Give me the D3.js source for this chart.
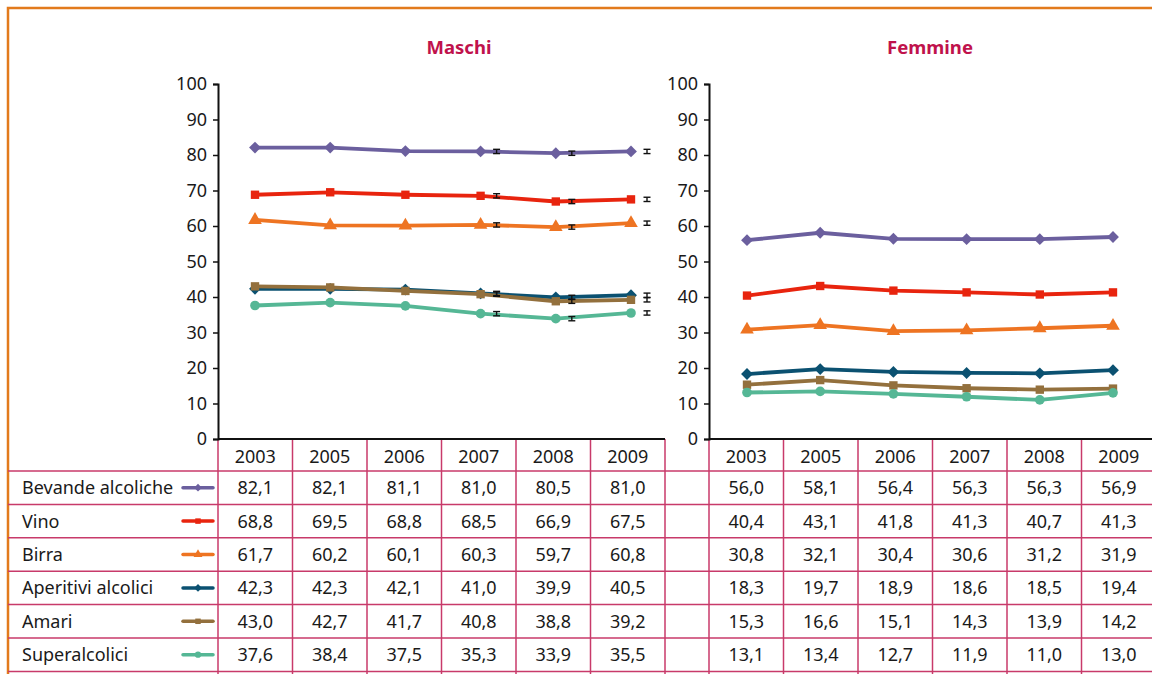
<!DOCTYPE html>
<html>
<head>
<meta charset="utf-8">
<script src="https://cdn.jsdelivr.net/npm/d3@7"></script>
<style>
body { margin: 0; background: #fff; }
text { font-family: "Noto Sans", sans-serif; fill: #1a1a1a; }
</style>
</head>
<body>
<div id="chart-area"></div>
<script>
//1. Data
var years = ["2003", "2005", "2006", "2007", "2008", "2009"];
var seriesNames = ["Bevande alcoliche", "Vino", "Birra", "Aperitivi alcolici", "Amari", "Superalcolici"];
var yTicks = [0, 10, 20, 30, 40, 50, 60, 70, 80, 90, 100];

var maschiBevande = [82.1, 82.1, 81.1, 81.0, 80.5, 81.0];
var maschiVino = [68.8, 69.5, 68.8, 68.5, 66.9, 67.5];
var maschiBirra = [61.7, 60.2, 60.1, 60.3, 59.7, 60.8];
var maschiAperitivi = [42.3, 42.3, 42.1, 41.0, 39.9, 40.5];
var maschiAmari = [43.0, 42.7, 41.7, 40.8, 38.8, 39.2];
var maschiSuper = [37.6, 38.4, 37.5, 35.3, 33.9, 35.5];

var femmineBevande = [56.0, 58.1, 56.4, 56.3, 56.3, 56.9];
var femmineVino = [40.4, 43.1, 41.8, 41.3, 40.7, 41.3];
var femmineBirra = [30.8, 32.1, 30.4, 30.6, 31.2, 31.9];
var femmineAperitivi = [18.3, 19.7, 18.9, 18.6, 18.5, 19.4];
var femmineAmari = [15.3, 16.6, 15.1, 14.3, 13.9, 14.2];
var femmineSuper = [13.1, 13.4, 12.7, 11.9, 11.0, 13.0];

// small confidence intervals drawn only for men, last three years
var errYears = ["2007", "2008", "2009"];
var errHalf = 0.6;

var maschi = [maschiBevande, maschiVino, maschiBirra, maschiAperitivi, maschiAmari, maschiSuper];
var femmine = [femmineBevande, femmineVino, femmineBirra, femmineAperitivi, femmineAmari, femmineSuper];

//2. Styles
var colors = ["#6b5f9e", "#e8240e", "#ee7422", "#0b5171", "#93703d", "#55b795"];
var shapes = ["diamond", "square", "triangle", "diamond", "square", "circle"];
var pink = "#c83a6a";
var fontSize = "18px";

var svg_width = 1152, svg_height = 674;
var svg = d3.select("#chart-area").append("svg")
    .attr("width", svg_width)
    .attr("height", svg_height);

// orange frame
svg.append("path")
    .attr("d", "M8," + svg_height + "V8H" + svg_width)
    .attr("fill", "none")
    .attr("stroke", "#e27a1c")
    .attr("stroke-width", 2.5);

//3. Scales
var y_scaling = d3.scaleLinear().domain([0, 100]).range([439, 84]);

var panels = [
    { title: "Maschi", data: maschi, left: 218, right: 665, pts: [255, 631], titleX: 459, err: true },
    { title: "Femmine", data: femmine, left: 709, right: 1156, pts: [747, 1113], titleX: 930, err: false }
];

var rowTop = 471, rowH = 33.4, headerTop = 439;
var row_scaling = d3.scaleBand().domain(seriesNames).range([rowTop, rowTop + rowH * 6]);

function fmt(v) { return v.toFixed(1).replace(".", ","); }

function markerPath(shape, size) {
    if (shape == "circle") return d3.symbol().type(d3.symbolCircle).size(size * 1.05)();
    if (shape == "triangle") return d3.symbol().type(d3.symbolTriangle).size(size * 1.15)();
    return d3.symbol().type(d3.symbolSquare).size(size)();
}
function markerRot(shape) { return shape == "diamond" ? " rotate(45)" : ""; }

//4. Table grid (horizontal lines run across the whole width)
var gridG = svg.append("g").attr("class", "grid");
d3.range(0, 7).forEach(function (i) {
    var yy = rowTop + i * rowH;
    gridG.append("line")
        .attr("x1", 8).attr("x2", svg_width)
        .attr("y1", yy).attr("y2", yy)
        .attr("stroke", pink).attr("stroke-width", 1.5);
});
gridG.append("line")
    .attr("x1", panels[0].left).attr("x2", panels[0].right)
    .attr("y1", headerTop).attr("y2", headerTop)
    .attr("stroke", pink).attr("stroke-width", 1.5);

// row labels + legend keys
seriesNames.forEach(function (name, i) {
    var cy = row_scaling(name) + row_scaling.bandwidth() / 2;
    svg.append("text")
        .attr("x", 22).attr("y", cy)
        .attr("dy", "0.36em")
        .attr("font-size", fontSize)
        .text(name);
    svg.append("line")
        .attr("x1", 183).attr("x2", 213)
        .attr("y1", cy).attr("y2", cy)
        .attr("stroke", colors[i]).attr("stroke-width", 3.5)
        .attr("stroke-linecap", "round");
    svg.append("path")
        .attr("d", markerPath(shapes[i], 30))
        .attr("transform", "translate(198," + cy + ")" + markerRot(shapes[i]))
        .attr("fill", colors[i]);
});

//5. Panels
panels.forEach(function (p) {
    var g = svg.append("g").attr("class", "panel");
    var col_scaling = d3.scaleBand().domain(years).range([p.left, p.right]);
    var x_scaling = d3.scalePoint().domain(years).range(p.pts);

    // vertical table lines
    years.forEach(function (yr) {
        g.append("line")
            .attr("x1", col_scaling(yr)).attr("x2", col_scaling(yr))
            .attr("y1", headerTop).attr("y2", svg_height)
            .attr("stroke", pink).attr("stroke-width", 1.5);
    });
    g.append("line")
        .attr("x1", p.right).attr("x2", p.right)
        .attr("y1", headerTop).attr("y2", svg_height)
        .attr("stroke", pink).attr("stroke-width", 1.5);

    // year header
    years.forEach(function (yr) {
        g.append("text")
            .attr("x", col_scaling(yr) + col_scaling.bandwidth() / 2)
            .attr("y", (headerTop + rowTop) / 2 + 2)
            .attr("dy", "0.36em")
            .attr("text-anchor", "middle")
            .attr("font-size", fontSize)
            .text(yr);
    });

    // values
    p.data.forEach(function (vals, i) {
        var cy = row_scaling(seriesNames[i]) + row_scaling.bandwidth() / 2;
        vals.forEach(function (v, j) {
            g.append("text")
                .attr("x", col_scaling(years[j]) + col_scaling.bandwidth() / 2)
                .attr("y", cy)
                .attr("dy", "0.36em")
                .attr("text-anchor", "middle")
                .attr("font-size", fontSize)
                .text(fmt(v));
        });
    });

    // y axis
    var y_axis_call = d3.axisLeft(y_scaling).tickValues(yTicks).tickSize(5).tickPadding(6);
    var ax = g.append("g")
        .attr("transform", "translate(" + p.left + ",0)")
        .call(y_axis_call);
    ax.select(".domain").attr("stroke", "#111").attr("stroke-width", 2);
    ax.selectAll(".tick line").attr("stroke", "#111").attr("stroke-width", 1.5);
    ax.selectAll(".tick text")
        .attr("font-family", "Noto Sans")
        .attr("font-size", fontSize)
        .attr("fill", "#111");

    // x axis line
    g.append("line")
        .attr("x1", p.left).attr("x2", p.right)
        .attr("y1", headerTop).attr("y2", headerTop)
        .attr("stroke", "#111").attr("stroke-width", 2);

    // title
    g.append("text")
        .attr("x", p.titleX).attr("y", 54)
        .attr("text-anchor", "middle")
        .attr("font-size", "18.5px")
        .attr("font-weight", "bold")
        .style("fill", "#c0124c")
        .text(p.title);

    // lines + markers
    var line = d3.line()
        .x(function (d, j) { return x_scaling(years[j]); })
        .y(function (d) { return y_scaling(d); });

    p.data.forEach(function (vals, i) {
        g.append("path")
            .datum(vals)
            .attr("d", line)
            .attr("fill", "none")
            .attr("stroke", colors[i])
            .attr("stroke-width", 3.8)
            .attr("stroke-linejoin", "round");
        g.selectAll(".m" + i)
            .data(vals)
            .enter()
            .append("path")
            .attr("class", "m" + i)
            .attr("d", markerPath(shapes[i], 70))
            .attr("transform", function (d, j) {
                return "translate(" + x_scaling(years[j]) + "," + y_scaling(d) + ")" + markerRot(shapes[i]);
            })
            .attr("fill", colors[i]);
    });

    // error bars
    if (p.err) {
        p.data.forEach(function (vals) {
            errYears.forEach(function (yr) {
                var v = vals[years.indexOf(yr)];
                var ex = x_scaling(yr) + 16;
                var eb = g.append("g").attr("stroke", "#111").attr("stroke-width", 1.4);
                eb.append("line").attr("x1", ex).attr("x2", ex)
                    .attr("y1", y_scaling(v - errHalf)).attr("y2", y_scaling(v + errHalf));
                eb.append("line").attr("x1", ex - 3.5).attr("x2", ex + 3.5)
                    .attr("y1", y_scaling(v - errHalf)).attr("y2", y_scaling(v - errHalf));
                eb.append("line").attr("x1", ex - 3.5).attr("x2", ex + 3.5)
                    .attr("y1", y_scaling(v + errHalf)).attr("y2", y_scaling(v + errHalf));
            });
        });
    }
});
</script>
</body>
</html>
